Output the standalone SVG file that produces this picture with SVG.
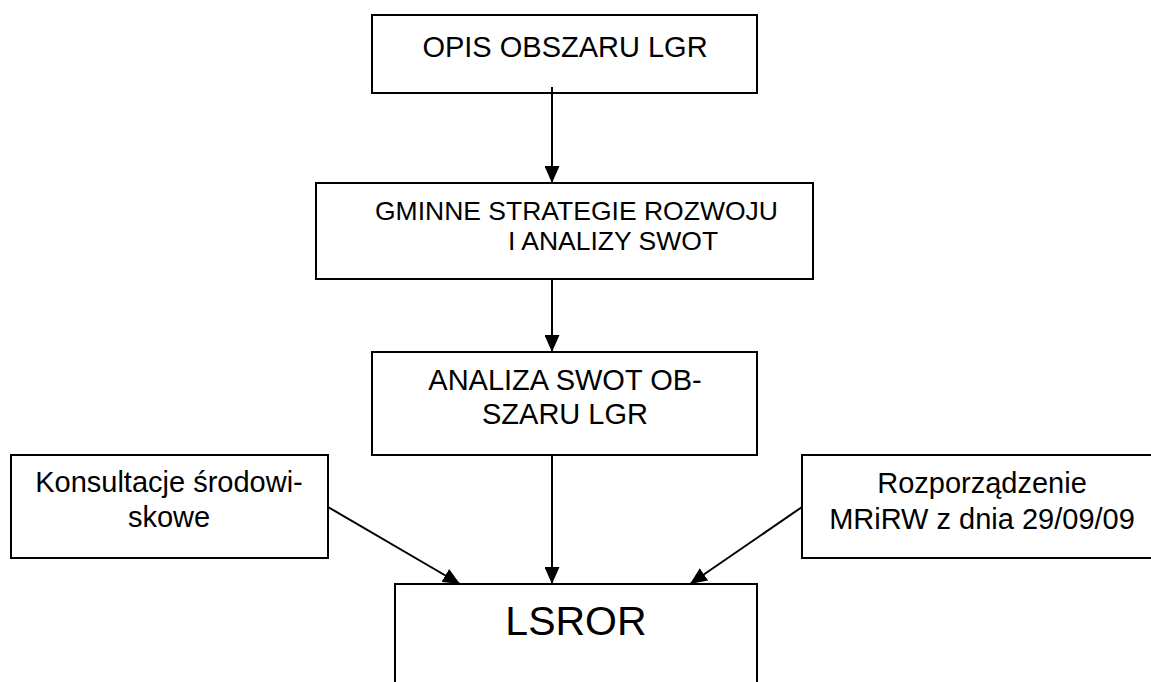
<svg xmlns="http://www.w3.org/2000/svg" width="1151" height="682" viewBox="0 0 1151 682">
  <defs>
    <style>
      .box { fill: #ffffff; stroke: #000000; stroke-width: 2; }
      .t { font-family: "Liberation Sans", Arial, sans-serif; font-size: 29px; fill: #000000; }
      .mid { text-anchor: middle; }
      .conn { stroke: #000000; stroke-width: 2; fill: none; marker-end: url(#arrow); }
    </style>
    <marker id="arrow" viewBox="0 0 17 15" refX="17" refY="7.5" markerWidth="17" markerHeight="15" markerUnits="userSpaceOnUse" orient="auto">
      <path d="M0,0 L17,7.5 L0,15 Z" fill="#000000"/>
    </marker>
  </defs>
  <rect width="1151" height="682" fill="#ffffff"/>

  <g id="node-opis">
    <rect class="box" x="372" y="15" width="385" height="78"/>
    <text class="t mid" x="565" y="57">OPIS OBSZARU LGR</text>
  </g>

  <g id="node-gminne">
    <rect class="box" x="316" y="183" width="497" height="96"/>
    <text class="t" x="375" y="220" style="font-size:26.5px">GMINNE STRATEGIE ROZWOJU</text>
    <text class="t" x="508" y="250" style="font-size:26.5px">I ANALIZY SWOT</text>
  </g>

  <g id="node-analiza">
    <rect class="box" x="372" y="352" width="385" height="103"/>
    <text class="t mid" x="565" y="390">ANALIZA SWOT OB-</text>
    <text class="t mid" x="565" y="424">SZARU LGR</text>
  </g>

  <g id="node-konsultacje">
    <rect class="box" x="11" y="455" width="317" height="103"/>
    <text class="t mid" x="169" y="492">Konsultacje środowi-</text>
    <text class="t mid" x="169" y="527">skowe</text>
  </g>

  <g id="node-rozporzadzenie">
    <rect class="box" x="802" y="455" width="360" height="103"/>
    <text class="t mid" x="982" y="493">Rozporządzenie</text>
    <text class="t mid" x="982" y="529">MRiRW z dnia 29/09/09</text>
  </g>

  <g id="node-lsror">
    <rect class="box" x="395" y="584" width="362" height="120"/>
    <text class="t mid" x="576" y="635" style="font-size:41px">LSROR</text>
  </g>

  <g id="connectors">
    <line class="conn" x1="552" y1="87" x2="552" y2="183"/>
    <line class="conn" x1="552" y1="279" x2="552" y2="352"/>
    <line class="conn" x1="552" y1="455" x2="552" y2="584"/>
    <line class="conn" x1="328" y1="507" x2="460" y2="584"/>
    <line class="conn" x1="802" y1="507" x2="690" y2="584"/>
  </g>
</svg>
